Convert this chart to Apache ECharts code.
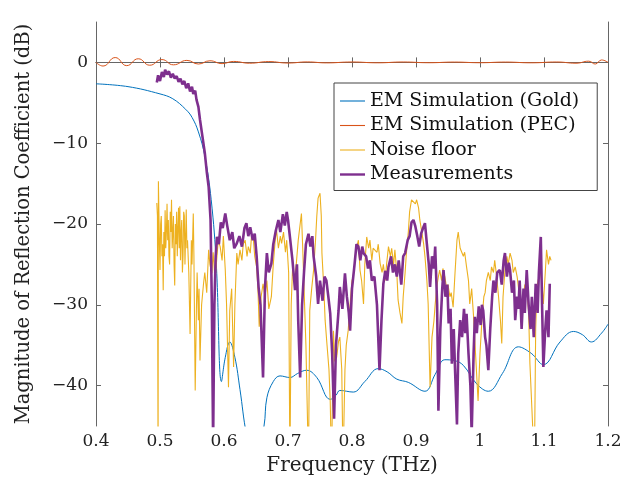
<!DOCTYPE html>
<html><head><meta charset="utf-8">
<script src="https://cdn.jsdelivr.net/npm/echarts@6/dist/echarts.min.js"></script>
<style>html,body{margin:0;padding:0;background:#fff}#c{width:641px;height:483px}</style>
</head><body><div id="c"></div>
<script>
const seriesNames = ['EM Simulation (Gold)', 'EM Simulation (PEC)', 'Noise floor', 'Measurements'];
const xTicks = [0.4, 0.5, 0.6, 0.7, 0.8, 0.9, 1.0, 1.1, 1.2];
const yTicks = [-40, -30, -20, -10, 0];

const goldF = [0.4,0.45,0.5,0.52,0.54,0.55,0.56,0.57,0.58,0.588,0.596,0.602,0.609,0.617,0.625,0.635,0.648,0.6625,0.667,0.677,0.6875,0.703,0.715,0.729,0.745,0.766,0.775,0.781,0.802,0.82,0.841,0.855,0.870,0.888,0.914,0.93,0.945,0.96,0.974,0.995,1.013,1.035,1.06,1.08,1.099,1.125,1.146,1.16,1.174,1.19,1.2];
const goldDb = [-2.65,-3.0,-3.9,-4.5,-5.8,-6.8,-8.6,-11.6,-17,-25,-39.5,-36.5,-34.6,-36.5,-40.5,-46,-50,-45,-41.5,-39.5,-38.8,-39,-38.5,-38.1,-39,-41.7,-41.2,-40.6,-40.8,-39.5,-37.9,-38.3,-39.2,-39.6,-40.7,-38.6,-36.8,-36.9,-37.5,-39.8,-40.7,-38.5,-35.2,-36.0,-37.4,-34.6,-33.3,-33.7,-34.6,-33.5,-32.4];

const pecF = [0.4,0.411,0.430,0.448,0.466,0.484,0.503,0.521,0.542,0.56,0.578,0.597,0.615,0.64,0.67,0.70,0.73,0.76,0.80,0.84,0.88,0.92,0.96,1.0,1.04,1.08,1.12,1.15,1.17,1.18,1.19,1.2];
const pecDb = [0.0,-0.45,0.6,-0.4,0.45,-0.35,0.35,-0.3,0.25,-0.2,0.2,-0.15,0.12,-0.1,0.1,-0.08,0.06,-0.06,0.05,-0.05,0.05,-0.04,0.04,-0.04,0.04,-0.05,0.05,-0.1,0.15,-0.2,0.3,0.0];

const noiseF = [0.495,0.496,0.497,0.4975,0.499,0.500,0.501,0.502,0.503,0.504,0.505,0.506,0.507,0.508,0.509,0.510,0.511,0.512,0.513,0.514,0.515,0.516,0.517,0.518,0.519,0.520,0.521,0.522,0.523,0.524,0.525,0.526,0.527,0.528,0.529,0.530,0.531,0.532,0.533,0.534,0.535,0.536,0.537,0.538,0.539,0.540,0.541,0.542,0.543,0.545,0.547,0.549,0.550,0.552,0.553,0.555,0.557,0.558,0.560,0.561,0.5625,0.565,0.568,0.570,0.573,0.576,0.578,0.581,0.583,0.586,0.589,0.591,0.594,0.597,0.599,0.602,0.604,0.607,0.609,0.612,0.615,0.617,0.620,0.622,0.625,0.628,0.630,0.633,0.636,0.638,0.641,0.643,0.646,0.648,0.651,0.653,0.655,0.658,0.661,0.664,0.667,0.670,0.674,0.677,0.680,0.682,0.685,0.688,0.690,0.693,0.696,0.698,0.701,0.703,0.705,0.707,0.710,0.713,0.716,0.719,0.721,0.723,0.725,0.728,0.732,0.734,0.737,0.740,0.743,0.745,0.747,0.750,0.752,0.753,0.756,0.758,0.761,0.764,0.766,0.768,0.771,0.773,0.776,0.779,0.781,0.784,0.786,0.789,0.791,0.794,0.797,0.800,0.802,0.805,0.807,0.810,0.8125,0.815,0.818,0.820,0.823,0.826,0.828,0.831,0.833,0.836,0.839,0.841,0.844,0.847,0.849,0.852,0.854,0.857,0.860,0.862,0.865,0.867,0.870,0.872,0.875,0.878,0.880,0.883,0.885,0.888,0.890,0.893,0.896,0.899,0.901,0.904,0.906,0.909,0.912,0.914,0.917,0.919,0.922,0.925,0.928,0.930,0.933,0.935,0.937,0.940,0.942,0.945,0.948,0.950,0.953,0.955,0.958,0.961,0.964,0.966,0.969,0.971,0.974,0.976,0.979,0.982,0.984,0.987,0.990,0.993,0.997,1.000,1.003,1.006,1.008,1.010,1.013,1.016,1.018,1.021,1.023,1.026,1.029,1.032,1.034,1.036,1.039,1.042,1.044,1.047,1.050,1.052,1.055,1.058,1.060,1.063,1.065,1.068,1.070,1.073,1.076,1.078,1.081,1.085,1.087,1.089,1.092,1.094,1.097,1.099,1.102,1.104,1.107,1.109,1.111];
const noiseDb = [-17.4,-19,-50,-14.7,-22,-25.7,-20,-19,-24,-22.5,-28.2,-21,-24,-18.3,-23,-21,-17.5,-22,-19.5,-24,-25,-18.5,-21,-17,-23,-21,-19,-25,-27.6,-20,-22.5,-18.5,-24,-20.5,-18,-23,-17.8,-24.5,-21,-19.5,-26,-24,-18.5,-19,-25,-21.5,-18.2,-23,-22,-26,-33.6,-22,-25,-18.7,-24,-40.6,-30,-26,-31.9,-28,-36.9,-30,-27.4,-26,-28.5,-23.2,-25,-26.1,-23.5,-27,-24,-22,-22.8,-24.5,-21.5,-25.7,-30,-40.2,-30.7,-28,-37.7,-30,-23.6,-25,-23.2,-24.5,-22.5,-22,-24,-22.8,-23.6,-21.5,-22,-24,-25.3,-28,-32.7,-29,-27.4,-29,-27,-30.5,-29,-25,-22,-20.7,-23,-21.5,-22.4,-21,-23.5,-22,-26,-50,-30,-25.7,-27,-24.9,-22,-20,-18.7,-23,-27.8,-35,-50,-30.7,-28,-25.7,-22,-19,-16.8,-16.2,-19,-23.6,-28,-31.9,-35,-38,-42,-50,-33.2,-37,-36.5,-34.5,-34,-38,-50,-38,-35,-33.2,-30,-27,-26.5,-24,-23,-22,-25.7,-27,-29.9,-25,-21.6,-23,-22,-24.5,-23,-22.8,-23.5,-22.5,-24.9,-26,-25,-27,-25,-22.8,-24,-23,-25,-23.2,-26,-29.4,-31,-32.3,-29,-26,-23.6,-21,-18.5,-17,-16.8,-17.5,-17,-18,-19.5,-21,-22.5,-24,-27,-29.9,-40.2,-34,-32,-29.9,-27.5,-26.5,-25.7,-27,-25.5,-26.5,-28,-27.5,-29,-28.5,-30.3,-26,-22,-21,-23,-22.8,-24,-23.5,-25.3,-27,-29.9,-28,-31.5,-36,-41.9,-36,-31.9,-29,-28.5,-27,-26,-27,-25.3,-26,-24.5,-26.5,-29,-32,-34.8,-29,-25.7,-24,-25,-23.6,-24.5,-26,-25.3,-26.5,-27.8,-29,-30.7,-29,-27.5,-27.8,-31,-37.3,-42.7,-50,-33,-27.8,-26.5,-25.7,-27.5,-29.9,-26,-23.2,-25,-24,-24.5];

const measF = [0.495,0.497,0.500,0.503,0.506,0.508,0.511,0.514,0.517,0.520,0.523,0.526,0.529,0.532,0.535,0.538,0.541,0.544,0.547,0.550,0.552,0.555,0.557,0.560,0.5625,0.566,0.570,0.573,0.576,0.579,0.581,0.583,0.585,0.587,0.589,0.592,0.595,0.598,0.602,0.605,0.609,0.613,0.616,0.620,0.624,0.628,0.632,0.635,0.638,0.641,0.645,0.648,0.651,0.654,0.657,0.661,0.664,0.667,0.670,0.674,0.677,0.681,0.685,0.688,0.692,0.695,0.698,0.700,0.703,0.707,0.711,0.714,0.716,0.719,0.722,0.725,0.728,0.732,0.735,0.738,0.740,0.744,0.747,0.750,0.754,0.757,0.760,0.763,0.766,0.769,0.772,0.775,0.779,0.781,0.785,0.789,0.792,0.795,0.797,0.800,0.804,0.807,0.810,0.813,0.816,0.818,0.822,0.825,0.828,0.831,0.835,0.839,0.843,0.846,0.849,0.852,0.855,0.857,0.861,0.864,0.867,0.870,0.873,0.877,0.880,0.883,0.887,0.890,0.893,0.896,0.899,0.902,0.905,0.908,0.911,0.914,0.917,0.920,0.922,0.925,0.928,0.930,0.933,0.935,0.938,0.941,0.943,0.946,0.949,0.951,0.954,0.956,0.959,0.961,0.964,0.966,0.969,0.972,0.975,0.977,0.979,0.982,0.985,0.987,0.990,0.992,0.995,0.998,1.001,1.003,1.005,1.008,1.010,1.013,1.016,1.019,1.021,1.024,1.027,1.031,1.034,1.037,1.039,1.042,1.045,1.047,1.050,1.053,1.055,1.058,1.060,1.062,1.065,1.068,1.070,1.073,1.076,1.079,1.081,1.084,1.087,1.090,1.092,1.095,1.097,1.099,1.102,1.104,1.107,1.109];
const measDb = [-2.5,-1.6,-2.3,-1.2,-1.8,-0.9,-1.5,-1.1,-1.9,-1.4,-2.0,-1.7,-2.4,-2.0,-2.7,-2.3,-3.2,-2.6,-3.6,-3.0,-3.9,-3.5,-4.6,-5.5,-7.1,-9.0,-11.2,-13.5,-15.4,-19.5,-30,-47,-30,-24,-21.6,-22.5,-19.8,-20.5,-18.7,-20.2,-22,-21.0,-23,-22.4,-21.5,-22.8,-20.5,-19.9,-21.5,-20.4,-22.0,-21.2,-24,-27.8,-30,-39,-28,-23.6,-26,-24.9,-22.5,-20.8,-19.5,-21.0,-18.8,-20.2,-18.5,-19.5,-21.6,-24.5,-28.2,-25,-32,-39,-30,-26,-22.5,-21.2,-22.8,-21.5,-24,-26.5,-29.9,-27,-29.5,-26.5,-27,-29,-31.1,-36,-44.1,-35,-30.7,-27.8,-30.5,-26.1,-29,-31,-33.2,-28,-25,-22.5,-22.8,-24.5,-22.8,-23.6,-24.0,-25.5,-24.5,-27,-26.5,-30,-38.1,-32,-27.4,-25.8,-27,-25.3,-24,-26,-25,-26.5,-24.5,-27.5,-24.0,-23.6,-22.0,-21.5,-19.8,-19.5,-20.3,-21.5,-22.8,-21.2,-20.5,-19.9,-22.5,-25,-27.8,-24,-25.5,-22.8,-30,-43.1,-33,-28,-25.7,-29,-27.5,-32.3,-30.5,-37.3,-33,-38,-44.8,-36,-31.9,-34,-30.5,-33.5,-31.1,-36,-40,-46,-36,-31.5,-33.5,-30.2,-32.5,-30,-30.7,-34,-35,-38.1,-33,-29,-27,-28.5,-26,-25.7,-27.5,-24.5,-23.6,-26.5,-24.8,-25.7,-28.5,-27,-31.9,-29,-30.5,-27,-33,-28,-31,-25.7,-30,-33,-29,-34,-27.4,-31,-26,-21.6,-30,-37.7,-33,-30.7,-34,-27.4];

const zip = (a, b) => a.map((v, i) => [v, b[i]]);
const FONT = 'DejaVu Serif';
const AXC = '#666';
const xFmt = v => String(Math.round(v * 10) / 10);
const yFmt = v => (v < 0 ? '\u2212' + Math.abs(v) : String(v));
const thin = 'path://M0,0h25v1.1h-25z';
const thick = 'path://M0,0h25v2.4h-25z';

const chart = echarts.init(document.getElementById('c'), null, {renderer: 'canvas'});
chart.setOption({
  animation: false,
  backgroundColor: '#fff',
  grid: {left: 96, right: 33, top: 22, bottom: 57, containLabel: false},
  legend: {
    orient: 'vertical', left: 334, top: 83,
    data: [
      {name: seriesNames[0], icon: thin},
      {name: seriesNames[1], icon: thin},
      {name: seriesNames[2], icon: thin},
      {name: seriesNames[3], icon: thick}
    ],
    itemWidth: 25, itemHeight: 14, itemGap: 4.5,
    symbolKeepAspect: true,
    padding: [8, 18, 6, 6],
    borderColor: '#444', borderWidth: 1, backgroundColor: '#fff',
    textStyle: {fontFamily: FONT, fontSize: 19, color: '#111', lineHeight: 20}
  },
  xAxis: [{
    type: 'value', min: 0.4, max: 1.2, interval: 0.1, position: 'bottom',
    name: 'Frequency (THz)', nameLocation: 'middle', nameGap: 30,
    nameTextStyle: {fontFamily: FONT, fontSize: 20, color: '#222'},
    axisLine: {show: true, lineStyle: {color: AXC, width: 1}},
    axisTick: {show: true, inside: true, length: 5, lineStyle: {color: AXC}},
    axisLabel: {fontFamily: FONT, fontSize: 17, color: '#222', margin: 7, formatter: xFmt},
    splitLine: {show: false}
  }, {
    type: 'value', min: 0.4, max: 1.2, interval: 0.1, position: 'top',
    axisLine: {show: true, lineStyle: {color: AXC, width: 1}},
    axisTick: {show: true, inside: true, length: 5, lineStyle: {color: AXC}},
    axisLabel: {show: false}, splitLine: {show: false}
  }],
  yAxis: [{
    type: 'value', min: -45, max: 5, position: 'left',
    name: 'Magnitude of Reflection Coefficient (dB)', nameLocation: 'middle', nameGap: 62,
    nameTextStyle: {fontFamily: FONT, fontSize: 19.5, color: '#222'},
    axisLine: {show: true, lineStyle: {color: AXC, width: 1}},
    axisTick: {show: true, inside: true, length: 5, lineStyle: {color: AXC}, customValues: yTicks},
    axisLabel: {fontFamily: FONT, fontSize: 17, color: '#222', margin: 8, customValues: yTicks, formatter: yFmt},
    splitLine: {show: false}
  }, {
    type: 'value', min: -45, max: 5, position: 'right',
    axisLine: {show: true, lineStyle: {color: AXC, width: 1}},
    axisTick: {show: true, inside: true, length: 5, lineStyle: {color: AXC}, customValues: yTicks},
    axisLabel: {show: false, customValues: yTicks}, splitLine: {show: false}
  }],
  series: [
    {name: seriesNames[0], type: 'line', data: zip(goldF, goldDb), smooth: 0.4, symbol: 'none', clip: true,
     lineStyle: {color: '#0072BD', width: 1}, itemStyle: {color: '#0072BD'}},
    {name: seriesNames[1], type: 'line', data: zip(pecF, pecDb), smooth: 0.5, symbol: 'none', clip: true,
     lineStyle: {color: '#D95319', width: 1}, itemStyle: {color: '#D95319'}},
    {name: seriesNames[2], type: 'line', data: zip(noiseF, noiseDb), symbol: 'none', clip: true,
     lineStyle: {color: '#EDB120', width: 1.1}, itemStyle: {color: '#EDB120'}},
    {name: seriesNames[3], type: 'line', data: zip(measF, measDb), symbol: 'none', clip: true,
     lineStyle: {color: '#7E2F8E', width: 2.6}, itemStyle: {color: '#7E2F8E'}}
  ]
});
</script></body></html>
